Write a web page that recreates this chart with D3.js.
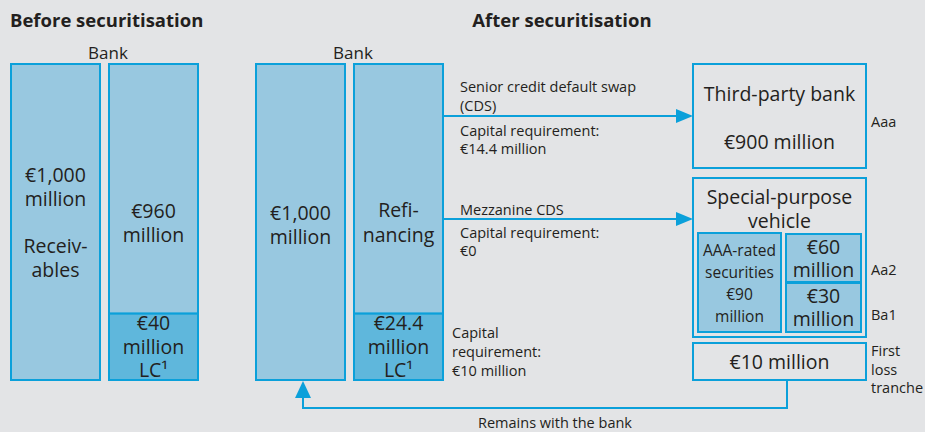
<!DOCTYPE html>
<html>
<head>
<meta charset="utf-8">
<script src="https://cdn.jsdelivr.net/npm/d3@7"></script>
<style>
  html, body { margin: 0; padding: 0; background: #e3e4e6; }
  svg { display: block; font-family: "Open Sans", "Noto Sans", sans-serif; }
  text { fill: #231f20; }
</style>
</head>
<body>
<svg id="chart" width="925" height="432"></svg>
<script>
// Data
const sectionTitles = ["Before securitisation", "After securitisation"];
const bankLabel = "Bank";
const beforeAssets = ["€1,000", "million", "", "Receiv-", "ables"];
const beforeFunding = ["€960", "million"];
const beforeLC = ["€40", "million", "LC¹"];
const afterAssets = ["€1,000", "million"];
const afterFunding = ["Refi-", "nancing"];
const afterLC = ["€24.4", "million", "LC¹"];
const lcCapital = ["Capital", "requirement:", "€10 million"];
const seniorText = ["Senior credit default swap", "(CDS)"];
const seniorCapital = ["Capital requirement:", "€14.4 million"];
const mezzText = ["Mezzanine CDS"];
const mezzCapital = ["Capital requirement:", "€0"];
const thirdParty = ["Third-party bank", "", "€900 million"];
const spvTitle = ["Special-purpose", "vehicle"];
const spvAAA = ["AAA-rated", "securities", "€90", "million"];
const spvTranches = [["€60", "million"], ["€30", "million"]];
const ratings = ["Aaa", "Aa2", "Ba1"];
const firstLoss = ["€10 million"];
const firstLossLabel = ["First", "loss", "tranche"];
const returnLabel = "Remains with the bank";

// Styles
const STROKE = "#0ba0da";
const LIGHT = "#98c8e0";
const DARK = "#5fb7dc";
const BIG = 19.5, SMALL = 14.5;

const svg = d3.select("#chart");
const g = svg.append("g");

// Vertical layout scale for the balance sheet columns (top, split, bottom)
const y = d3.scaleLinear().domain([0, 1]).range([64, 380]);
const split = 0.79;

function box(x0, x1, y0, y1, fill, sw = 2) {
  g.append("rect")
    .attr("x", x0).attr("y", y0)
    .attr("width", x1 - x0).attr("height", y1 - y0)
    .attr("fill", fill)
    .attr("stroke", STROKE)
    .attr("stroke-width", sw);
}

function lines(arr, x, y0, lh, size, anchor = "middle", weight = 400) {
  const t = g.append("text")
    .attr("text-anchor", anchor)
    .attr("font-size", size)
    .attr("font-weight", weight);
  arr.forEach((s, i) => {
    t.append("tspan").attr("x", x).attr("y", y0 + i * lh).text(s);
  });
  return t;
}

// Titles
lines([sectionTitles[0]], 10, 27, 0, 18.5, "start", 700);
lines([sectionTitles[1]], 562, 27, 0, 18.5, "middle", 700);
lines([bankLabel], 108, 59, 0, 17);
lines([bankLabel], 353, 59, 0, 17);

// Before securitisation columns
box(11, 100, y(0), y(1), LIGHT);
box(109, 198, y(0), y(split), LIGHT);
box(109, 198, y(split), y(1), DARK);
lines(beforeAssets, 55.5, 182, 23.7, BIG);
lines(beforeFunding, 153.5, 218, 24, BIG);
lines(beforeLC, 153.5, 330, 23.5, BIG);

// After securitisation columns
box(256, 345, y(0), y(1), LIGHT);
box(354, 443, y(0), y(split), LIGHT);
box(354, 443, y(split), y(1), DARK);
lines(afterAssets, 300.5, 220, 24, BIG);
lines(afterFunding, 398.5, 217, 25, BIG);
lines(afterLC, 398.5, 330, 23.5, BIG);
lines(lcCapital, 452, 338, 19, SMALL, "start");

// Arrows
function arrowH(x0, x1, yy) {
  g.append("line").attr("x1", x0).attr("x2", x1 - 14).attr("y1", yy).attr("y2", yy)
    .attr("stroke", STROKE).attr("stroke-width", 2);
  g.append("path")
    .attr("d", d3.line()([[x1 - 17, yy - 7], [x1, yy], [x1 - 17, yy + 7]]))
    .attr("fill", STROKE);
}
arrowH(443, 693, 116);
arrowH(443, 693, 219);

lines(seniorText, 460, 92, 18.5, SMALL, "start");
lines(seniorCapital, 460, 136, 17.5, SMALL, "start");
lines(mezzText, 460, 215, 0, SMALL, "start");
lines(mezzCapital, 460, 238, 18, SMALL, "start");

// Third-party bank
box(693, 866, 64, 168, "none");
lines(thirdParty, 779.5, 101, 24, BIG);

// SPV
box(693, 866, 178, 337, "none");
lines(spvTitle, 779.5, 204, 24, BIG);
box(698, 781, 233, 332, LIGHT);
lines(spvAAA, 739.5, 256, 22, 15.5);
box(786, 861, 234, 282, LIGHT);
box(786, 861, 283, 332, LIGHT);
lines(spvTranches[0], 823.5, 254, 23, BIG);
lines(spvTranches[1], 823.5, 303, 23, BIG);

// First loss
box(693, 866, 343, 380, "none");
lines(firstLoss, 779.5, 368.5, 0, BIG);

// Ratings
lines([ratings[0]], 871, 127, 0, SMALL, "start");
lines([ratings[1]], 871, 275, 0, SMALL, "start");
lines([ratings[2]], 871, 320, 0, SMALL, "start");
lines(firstLossLabel, 871, 356, 18.5, SMALL, "start");

// Return path
g.append("path")
  .attr("d", d3.line()([[787, 380], [787, 408], [303, 408], [303, 396]]))
  .attr("fill", "none").attr("stroke", STROKE).attr("stroke-width", 2);
g.append("path")
  .attr("d", d3.line()([[295, 398], [303, 381], [311, 398]]))
  .attr("fill", STROKE);
lines([returnLabel], 555, 428, 0, SMALL);
</script>
</body>
</html>
